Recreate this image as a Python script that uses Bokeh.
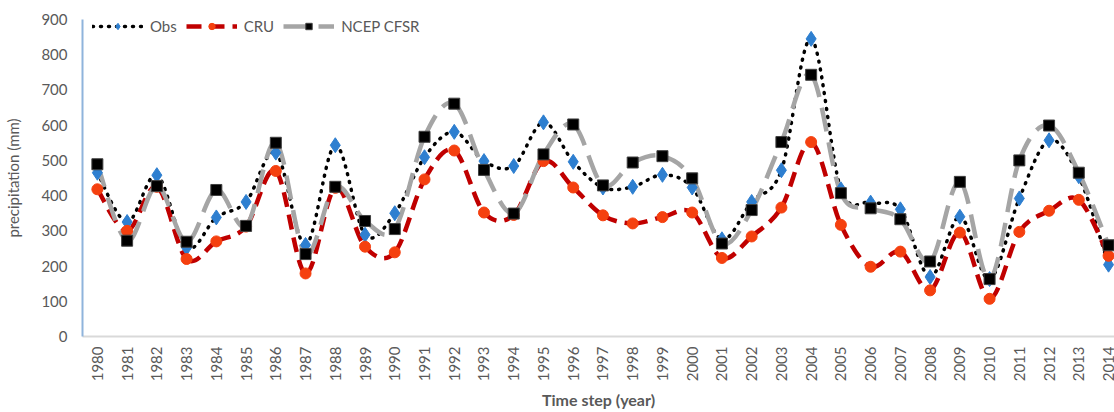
import numpy as np
from bokeh.plotting import figure
from bokeh.models import Legend, LegendItem, FixedTicker, Range1d
from bokeh.embed import file_html
from bokeh.resources import INLINE

years = list(range(1980, 2015))
obs = [465, 325, 458, 252, 338, 382, 522, 260, 543, 289,
       350, 509, 581, 498, 484, 608, 496, 423, 425, 459,
       423, 276, 382, 472, 845, 418, 380, 361, 169, 340,
       163, 392, 557, 455, 204]
cru = [418, 300, 425, 220, 270, 312, 470, 179, 422, 255,
       239, 446, 528, 352, 345, 498, 423, 344, 321, 339,
       352, 223, 284, 366, 552, 317, 198, 241, 131, 295,
       107, 297, 357, 388, 229]
ncep = [489, 272, 427, 269, 416, 314, 550, 234, 425, 328,
        305, 567, 661, 473, 349, 517, 602, 429, 494, 512,
        449, 264, 359, 552, 743, 407, 364, 333, 213, 439,
        163, 500, 599, 465, 259]
y_ticks = [0, 100, 200, 300, 400, 500, 600, 700, 800, 900]

FONT = "Lato"
GREY = "#595959"


def smooth_segments(xs, ys):
    """Bezier control points (Catmull-Rom, like Excel's smoothed line)."""
    x = np.asarray(xs, float)
    y = np.asarray(ys, float)
    n = len(x)
    xp = np.concatenate([[x[0]], x, [x[-1]]])
    yp = np.concatenate([[y[0]], y, [y[-1]]])
    d = dict(
        x0=x[:-1], y0=y[:-1], x1=x[1:], y1=y[1:],
        cx0=x[:-1] + (xp[2:n + 1] - xp[0:n - 1]) / 6.0,
        cy0=y[:-1] + (yp[2:n + 1] - yp[0:n - 1]) / 6.0,
        cx1=x[1:] - (xp[3:n + 2] - xp[1:n]) / 6.0,
        cy1=y[1:] - (yp[3:n + 2] - yp[1:n]) / 6.0,
    )
    return d


FRAME_H = 317
p = figure(frame_width=1032, frame_height=FRAME_H, output_backend="svg",
           toolbar_location=None,
           x_range=Range1d(1979.5, 2014.2), y_range=Range1d(0, 900),
           min_border_left=82, min_border_top=19, min_border_right=0,
           min_border_bottom=0)
p.outline_line_color = None
p.grid.visible = False

# series
s = smooth_segments(years, obs)
r_obs_l = p.bezier(line_color="black", line_width=3.5, line_dash="1 7",
                   line_cap="round", **s)
s = smooth_segments(years, cru)
r_cru_l = p.bezier(line_color="#c00000", line_width=4.5, line_dash="15 8", **s)
s = smooth_segments(years, ncep)
r_ncep_l = p.bezier(line_color="#a5a5a5", line_width=4.5, line_dash="24 11", **s)

r_obs_m = p.scatter(years, obs, marker="diamond", size=15, fill_color="#2e7fd0",
                    line_color="#2e7fd0")
r_cru_m = p.scatter(years, cru, marker="circle", size=11, fill_color="#f5400f",
                    line_color="#f5400f")
r_ncep_m = p.scatter(years, ncep, marker="square", size=11, fill_color="black",
                     line_color="#404040")

# axes
p.xaxis.ticker = FixedTicker(ticks=years)
p.xaxis.major_label_orientation = np.pi / 2
p.yaxis.ticker = FixedTicker(ticks=y_ticks)
for ax in (p.xaxis[0], p.yaxis[0]):
    ax.major_tick_line_color = None
    ax.minor_tick_line_color = None
    ax.major_tick_in = 0
    ax.major_tick_out = 0
    ax.minor_tick_in = 0
    ax.minor_tick_out = 0
    ax.major_label_text_font = FONT
    ax.major_label_text_font_size = "15px"
    ax.major_label_text_color = GREY
    ax.axis_label_text_font = FONT
    ax.axis_label_text_color = GREY
p.yaxis.axis_line_color = "#8fb4dc"
p.yaxis.axis_line_width = 2
p.xaxis.axis_line_color = "#d9d9d9"
p.xaxis.axis_line_width = 2
p.yaxis.major_label_standoff = 15
p.xaxis.major_label_standoff = 10
p.yaxis.axis_label = "precipitation (mm)"
p.yaxis.axis_label_text_font_size = "15px"
p.yaxis.axis_label_text_font_style = "normal"
p.yaxis.axis_label_standoff = 16
p.xaxis.axis_label = "Time step (year)"
p.xaxis.axis_label_text_font_size = "16px"
p.xaxis.axis_label_text_font_style = "bold"
p.xaxis.axis_label_standoff = 6

legend = Legend(items=[
    LegendItem(label="Obs", renderers=[r_obs_l, r_obs_m]),
    LegendItem(label="CRU", renderers=[r_cru_l, r_cru_m]),
    LegendItem(label="NCEP CFSR", renderers=[r_ncep_l, r_ncep_m]),
], orientation="horizontal")
legend.margin = 0
legend.padding = 0
legend.border_line_color = None
legend.background_fill_alpha = 0
legend.glyph_width = 51
legend.glyph_height = 16
legend.label_height = 16
legend.label_standoff = 7
legend.spacing = 9
legend.label_text_font = FONT
legend.label_text_font_size = "15px"
legend.label_text_color = GREY
legend.location = (10, FRAME_H - 16)
p.add_layout(legend)

open("out.html", "w").write(file_html(p, INLINE))
